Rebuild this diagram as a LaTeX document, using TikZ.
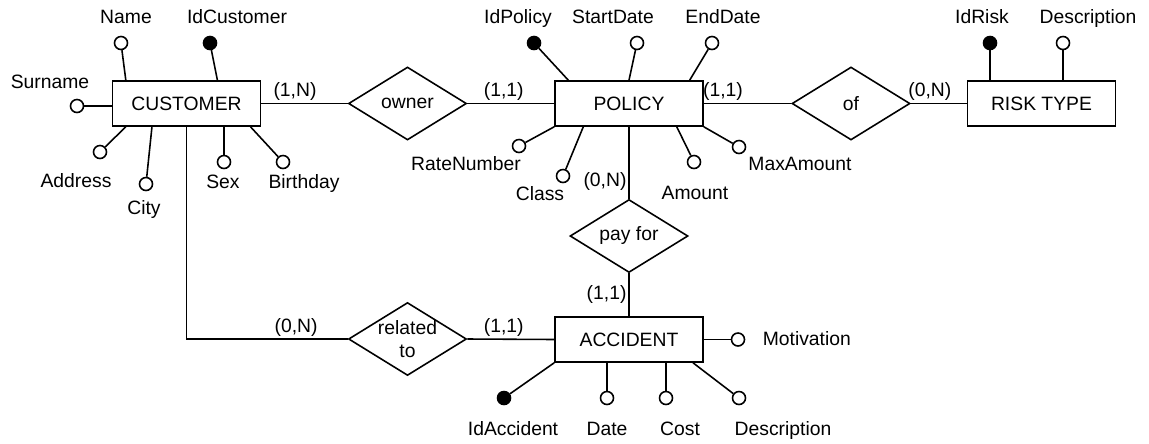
\documentclass[tikz,border=0pt]{standalone}
\usepackage{fontspec}
\setmainfont{Liberation Sans}
\usetikzlibrary{shapes.geometric}

\begin{document}
\begin{tikzpicture}[x=0.02cm, y=-0.02cm, line width=0.9pt, font=\fontsize{11}{13}\selectfont]
        \tikzstyle{entity} = [rectangle, draw, minimum width=2.96cm, minimum height=0.9cm]
        \tikzstyle{relation} = [diamond, draw, aspect=1.6, inner sep=0pt, minimum width=2.36cm, minimum height=1.46cm, align=center]
        \tikzstyle{attr} = [circle, draw, fill=white, inner sep=0pt, minimum size=0.26cm]
        \tikzstyle{key} = [attr, fill=black]
        \tikzstyle{lbl} = [text height=1.6ex, text depth=.4ex, inner sep=0pt]
        \tikzstyle{card} = [inner sep=1pt]
        \tikzstyle{line} = [draw]
        \useasboundingbox (0,0) rectangle (1149,443);
        % entities and relationships
        \node [entity] (cust) at (186.5,103.5) {CUSTOMER};
        \node [entity] (pol) at (629,103.5) {POLICY};
        \node [entity] (risk) at (1041.5,103.5) {RISK TYPE};
        \node [entity] (acc) at (629,339.5) {ACCIDENT};
        \node [relation] (owner) at (407.5,103.5) {owner};
        \node [relation] (of) at (851,103.5) {of};
        \node [relation] (pay) at (629,236) {pay for};
        \node [relation, inner sep=-2pt] (rel) at (407.5,339) {related\\to};
        \path [line] (cust.east) -- node[above, card, pos=.39] {(1,N)} (owner.west);
        \path [line] (owner.east) -- node[above, card, pos=.42] {(1,1)} (pol.west);
        \path [line] (pol.east) -- node[above, card, pos=.22] {(1,1)} (of.west);
        \path [line] (of.east) -- node[above, card, pos=.34] {(0,N)} (risk.west);
        \path [line] (pol.south) -- node[left, card, pos=.76] {(0,N)} (pay.north);
        \path [line] (pay.south) -- node[left, card, pos=.49] {(1,1)} (acc.north);
        \path [line] (rel.east) -- node[above, card, pos=.42] {(1,1)} (acc.west);
        \path [line] (cust.south) |- node[above, card, pos=.84] {(0,N)} (rel.west);
        % customer
        \node [attr] (aName) at (121,43) {};
        \node [key] (aIdCust) at (210,43) {};
        \node [attr] (aSurname) at (77,106) {};
        \node [attr] (aAddress) at (100,152) {};
        \node [attr] (aCity) at (146,184) {};
        \node [attr] (aSex) at (224,162) {};
        \node [attr] (aBirthday) at (283,162) {};
        \path [line] (aName) -- (cust.159);
        \path [line] (aIdCust) -- (cust.37);
        \path [line] (aSurname) -- (aSurname -| cust.west);
        \path [line] (aAddress) -- (cust.201);
        \path [line] (aCity) -- (cust.214);
        \path [line] (aSex) -- (aSex |- cust.south);
        \path [line] (aBirthday) -- (cust.340);
        \node [lbl] (tName) at (126,18) {Name};
        \node [lbl] (tIdCust) at (237,18) {IdCustomer};
        \node [lbl] (tSurname) at (50,83) {Surname};
        \node [lbl] (tAddress) at (76,182) {Address};
        \node [lbl] (tCity) at (144,209) {City};
        \node [lbl] (tSex) at (223,183) {Sex};
        \node [lbl] (tBirthday) at (304,183) {Birthday};
        % policy
        \node [key] (aIdPol) at (534,43) {};
        \node [attr] (aStart) at (637,43) {};
        \node [attr] (aEnd) at (712,43) {};
        \node [attr] (aRate) at (519,146) {};
        \node [attr] (aClass) at (563,176) {};
        \node [attr] (aAmount) at (694,162) {};
        \node [attr] (aMax) at (739,147) {};
        \path [line] (aIdPol) -- (pol.159);
        \path [line] (aStart) -- (pol.north);
        \path [line] (aEnd) -- (pol.21);
        \path [line] (aRate) -- (pol.south west);
        \path [line] (aClass) -- (pol.207);
        \path [line] (aAmount) -- (pol.334);
        \path [line] (aMax) -- (pol.south east);
        \node [lbl] (tIdPol) at (518,18) {IdPolicy};
        \node [lbl] (tStart) at (613,18) {StartDate};
        \node [lbl] (tEnd) at (723,18) {EndDate};
        \node [lbl] (tRate) at (466,165) {RateNumber};
        \node [lbl] (tClass) at (540,195) {Class};
        \node [lbl] (tAmount) at (695,194) {Amount};
        \node [lbl] (tMax) at (800,165) {MaxAmount};
        % risk type
        \node [key] (aIdRisk) at (990,43) {};
        \node [attr] (aDescr) at (1063,43) {};
        \path [line] (aIdRisk) -- (aIdRisk |- risk.north);
        \path [line] (aDescr) -- (aDescr |- risk.north);
        \node [lbl] (tIdRisk) at (982,18) {IdRisk};
        \node [lbl] (tDescr) at (1088,18) {Description};
        % accident
        \node [key] (aIdAcc) at (504,398) {};
        \node [attr] (aDate) at (607,398) {};
        \node [attr] (aCost) at (666,398) {};
        \node [attr] (aDescrAcc) at (739,398) {};
        \node [attr] (aMotiv) at (738,339.5) {};
        \path [line] (aIdAcc) -- (acc.south west);
        \path [line] (aDate) -- (aDate |- acc.south);
        \path [line] (aCost) -- (aCost |- acc.south);
        \path [line] (aDescrAcc) -- (acc.340);
        \path [line] (acc.east) -- (aMotiv);
        \node [lbl] (tIdAcc) at (513,430) {IdAccident};
        \node [lbl] (tDate) at (607,430) {Date};
        \node [lbl] (tCost) at (680,430) {Cost};
        \node [lbl] (tDescrAcc) at (783,430) {Description};
        \node [lbl, anchor=west] (tMotiv) at (762,339.5) {Motivation};
\end{tikzpicture}
\end{document}
